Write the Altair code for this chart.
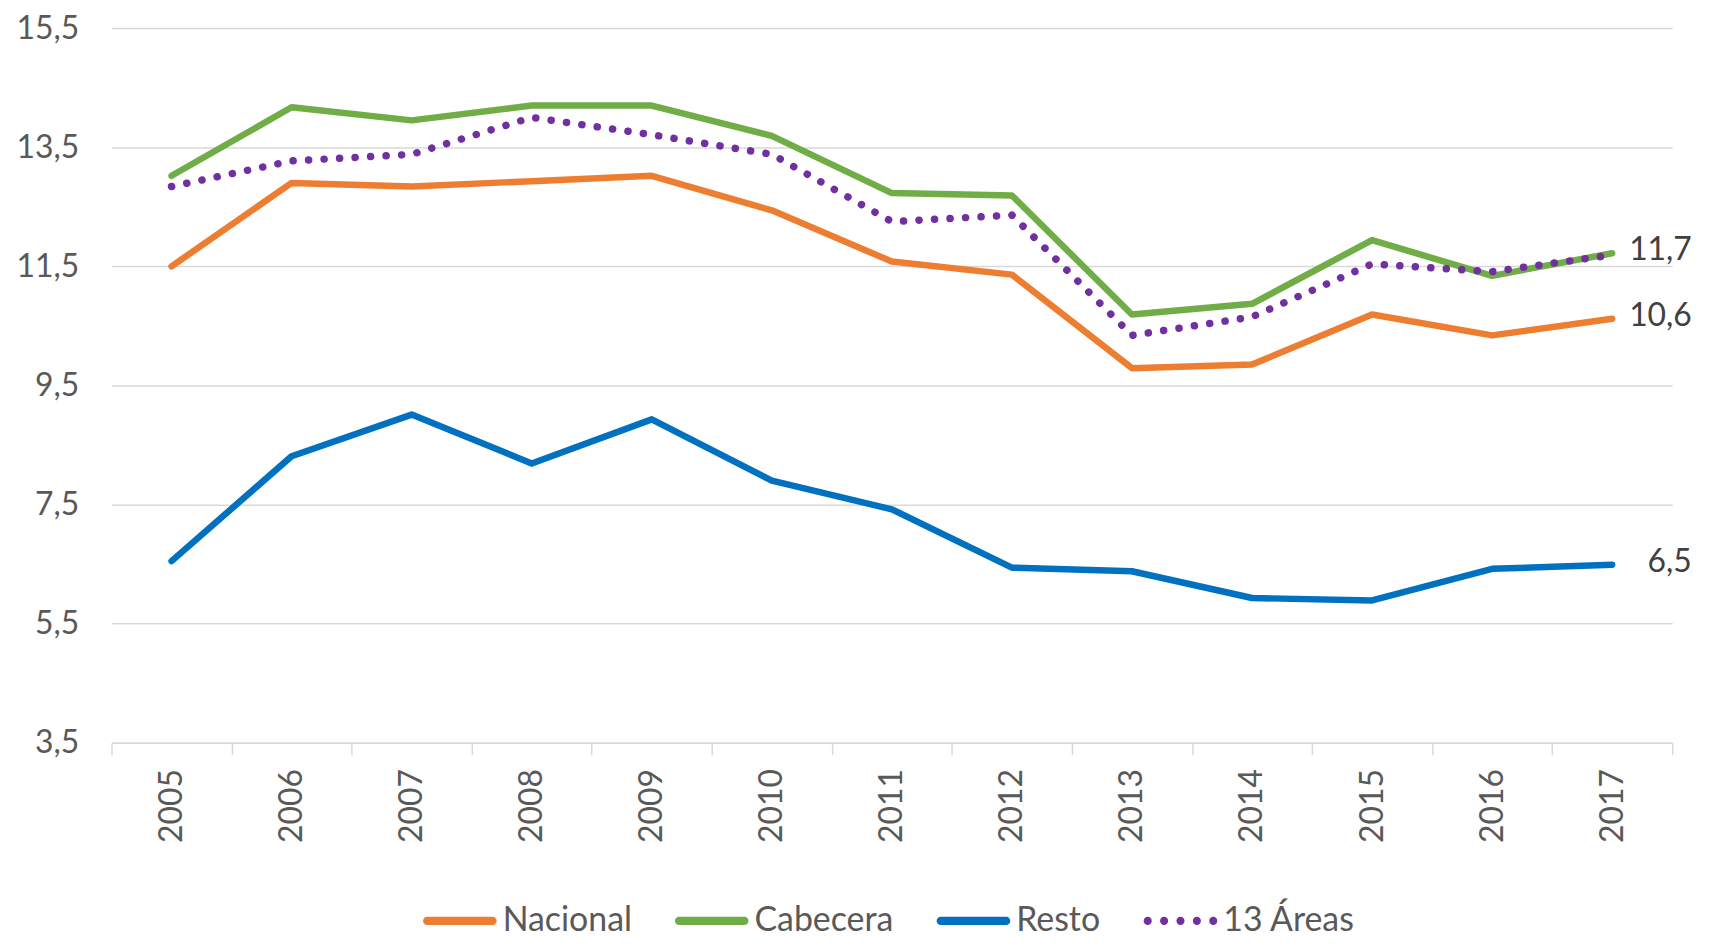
import altair as alt
import pandas as pd

years = [str(y) for y in range(2005, 2018)]
series = ["Nacional", "Cabecera", "Resto", "13 Áreas"]
nacional = [11.5, 12.9, 12.84, 12.93, 13.02, 12.44, 11.58, 11.36, 9.79, 9.85, 10.69, 10.34, 10.62]
cabecera = [13.02, 14.17, 13.95, 14.2, 14.2, 13.69, 12.73, 12.69, 10.69, 10.87, 11.94, 11.34, 11.72]
resto = [6.55, 8.31, 9.01, 8.19, 8.93, 7.9, 7.42, 6.44, 6.38, 5.93, 5.89, 6.42, 6.49]
areas13 = [12.84, 13.27, 13.38, 14.0, 13.71, 13.38, 12.25, 12.36, 10.34, 10.65, 11.54, 11.41, 11.69]
colors = ["#ED7D31", "#70AD47", "#0070C0", "#7030A0"]
dotted_series = ["13 Áreas"]
y_ticks = [3.5, 5.5, 7.5, 9.5, 11.5, 13.5, 15.5]
labelled = ["Nacional", "Cabecera", "Resto"]

rows = []
for name, vals in zip(series, [nacional, cabecera, resto, areas13]):
    for yr, v in zip(years, vals):
        rows.append({"year": yr, "series": name, "value": v, "lab": name in labelled and yr == years[-1]})
df = pd.DataFrame(rows)

FONT = "Lato"
h = 0.11
bar_path = f"M-0.89,-{h}H0.89A{h},{h} 0 0,1 0.89,{h}H-0.89A{h},{h} 0 0,1 -0.89,-{h}Z"
r = 0.11
dot_path = "".join(
    f"M{cx - r:.3f},0A{r},{r} 0 1,0 {cx + r:.3f},0A{r},{r} 0 1,0 {cx - r:.3f},0Z"
    for cx in [-0.89, -0.445, 0.0, 0.445, 0.89]
)

x_enc = alt.X(
    "year:N",
    sort=years,
    scale=alt.Scale(paddingInner=0, paddingOuter=0),
    axis=alt.Axis(
        title=None, labelAngle=270, labelPadding=14, labelFontSize=32, labelFont=FONT,
        labelColor="#595959", tickBand="extent", tickSize=12, tickColor="#d9d9d9",
        tickWidth=1.5, domainColor="#d9d9d9", domainWidth=1.5, grid=False,
    ),
)
y_enc = alt.Y(
    "value:Q",
    scale=alt.Scale(domain=[3.5, 15.5], nice=False, zero=False),
    axis=alt.Axis(
        title=None, values=y_ticks,
        labelExpr="replace(format(datum.value, '.1f'), '.', ',')",
        labelFontSize=32, labelFont=FONT, labelColor="#595959", labelPadding=33,
        ticks=False, domain=False, grid=True, gridColor="#d9d9d9", gridWidth=1.5,
    ),
)

legend_kw = dict(
    title=None, orient="none", direction="horizontal", legendX=313, legendY=860,
    labelFontSize=34, labelFont=FONT, labelColor="#595959",
    symbolSize=5476, symbolStrokeWidth=0, symbolOpacity=1,
    columnPadding=43, labelOffset=6,
)

base = alt.Chart(df)

layers = []
for name, col in zip(series, colors):
    if name in dotted_series:
        mk = base.mark_line(strokeWidth=7.5, strokeCap="round", strokeJoin="round",
                            strokeDash=[0.1, 15.5], stroke=col)
    else:
        mk = base.mark_line(strokeWidth=6.5, strokeCap="round", strokeJoin="round", stroke=col)
    layers.append(mk.transform_filter(alt.datum.series == name).encode(x=x_enc, y=y_enc))

legend_pts = base.mark_point(filled=True, opacity=0, strokeWidth=0).encode(
    x=x_enc, y=y_enc,
    fill=alt.Fill("series:N", scale=alt.Scale(domain=series, range=colors),
                  legend=alt.Legend(**legend_kw)),
    shape=alt.Shape(
        "series:N",
        scale=alt.Scale(domain=series, range=[bar_path, bar_path, bar_path, dot_path]),
        legend=alt.Legend(**legend_kw),
    ),
)

labels = base.transform_filter("datum.lab").transform_calculate(
    txt="replace(format(datum.value, '.1f'), '.', ',')"
).mark_text(
    align="right", baseline="middle", dx=80, dy=-3, fontSize=32, font=FONT, color="#404040"
).encode(x=x_enc, y=y_enc, text="txt:N")

chart = alt.layer(*layers, legend_pts, labels).properties(
    width=1568, height=718,
    autosize=alt.AutoSizeParams(type="none"),
    padding={"left": 104, "top": 18, "right": 39, "bottom": 196},
).configure_view(stroke=None)

chart.save("out.html", embed_options={"renderer": "svg", "actions": False})
